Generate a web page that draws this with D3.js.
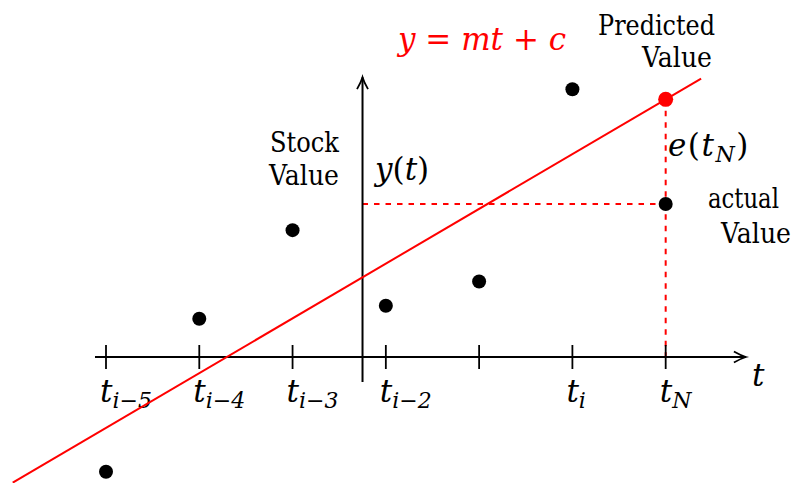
<!DOCTYPE html>
<html>
<head>
<meta charset="utf-8">
<script src="https://cdn.jsdelivr.net/npm/d3@7/dist/d3.min.js"></script>
<style>
  html, body { margin: 0; padding: 0; background: #fff; }
  svg { display: block; }
</style>
</head>
<body>
<svg id="chart" width="797" height="483"></svg>
<script>
// Time positions of the observations (t_{i-5} ... t_N)
const timePoints = [0, 1, 2, 3, 4, 5, 6];
// Tick labels: base symbol and subscript
const tickBase = ["t", "t", "t", "t", "", "t", "t"];
const tickSub = ["i\u22125", "i\u22124", "i\u22123", "i\u22122", "", "i", "N"];
// Observed stock values at each time point (last one is the actual value at t_N)
const stockValues = [-1.23, 0.41, 1.36, 0.55, 0.81, 2.87, 1.64];
// Fitted trend y = m t + c
const slope = 0.587;
const intercept = -0.76;
const predictTime = 6;
const predictedValue = slope * predictTime + intercept;
// Axis extents (data units)
const xAxisExtent = [-0.118, 6.86];
const yAxisAt = 2.75;
const yAxisExtent = [-0.268, 3.0];
const trendExtent = [-1.0, 6.38];

const svg = d3.select("#chart");
const unit = 93.28;
const x = d3.scaleLinear().domain([0, 6]).range([106, 106 + 6 * unit]);
const y = d3.scaleLinear().domain([0, 3]).range([357, 357 - 3 * unit]);

const red = "#ff0000";
const serif = "DejaVu Serif";
const mathSize = 31, subSize = 22, wordSize = 28;

function textEl(sel, size, italic) {
  return sel.append("text")
    .attr("font-family", serif)
    .attr("font-size", size)
    .attr("font-style", italic ? "italic" : "normal");
}
// plain word label, narrowed horizontally to a set width
function word(sel, s, xPos, yPos, width, anchor) {
  const t = textEl(sel, wordSize, false)
    .attr("text-anchor", anchor || "start")
    .text(s);
  const natural = t.node().getComputedTextLength();
  t.attr("transform", `translate(${xPos},${yPos}) scale(${width / natural},1)`);
  return t;
}
function up(t, s) { return t.append("tspan").attr("font-style", "normal").text(s); }
function it(t, s) { return t.append("tspan").attr("font-style", "italic").text(s); }

// Dashed guides: actual value across to the y axis, and the error at t_N
svg.append("line")
  .attr("x1", x(yAxisAt)).attr("x2", x(predictTime))
  .attr("y1", y(stockValues[6])).attr("y2", y(stockValues[6]))
  .attr("stroke", red).attr("stroke-width", 2).attr("stroke-dasharray", "5.5,6");
svg.append("line")
  .attr("x1", x(predictTime)).attr("x2", x(predictTime))
  .attr("y1", y(predictedValue)).attr("y2", y(0))
  .attr("stroke", red).attr("stroke-width", 2).attr("stroke-dasharray", "5.5,6");

// x axis with arrow
const xa = svg.append("g");
xa.append("line")
  .attr("x1", x(xAxisExtent[0])).attr("x2", x(xAxisExtent[1]))
  .attr("y1", y(0)).attr("y2", y(0))
  .attr("stroke", "#000").attr("stroke-width", 2);
const ax = x(xAxisExtent[1]), ay = y(0);
xa.append("path")
  .attr("d", `M${ax - 12},${ay - 5.5} Q${ax - 5},${ay - 1.5} ${ax},${ay} Q${ax - 5},${ay + 1.5} ${ax - 12},${ay + 5.5}`)
  .attr("fill", "none").attr("stroke", "#000").attr("stroke-width", 1.8);

// ticks
xa.selectAll(".tick").data(timePoints).join("line")
  .attr("x1", d => x(d)).attr("x2", d => x(d))
  .attr("y1", y(0) - 12).attr("y2", y(0) + 12)
  .attr("stroke", "#000").attr("stroke-width", 1.8);

// tick labels
timePoints.forEach((d, i) => {
  if (tickBase[i] === "") return;
  const t = textEl(xa, mathSize, true).attr("x", x(d) - 6).attr("y", 402);
  it(t, tickBase[i]);
  it(t, tickSub[i]).attr("font-size", subSize).attr("dy", 6);
});

// axis name t
textEl(svg, mathSize, true).attr("x", 752).attr("y", 386).text("t");

// y axis with arrow
const ya = svg.append("g");
ya.append("line")
  .attr("x1", x(yAxisAt)).attr("x2", x(yAxisAt))
  .attr("y1", y(yAxisExtent[0])).attr("y2", y(yAxisExtent[1]))
  .attr("stroke", "#000").attr("stroke-width", 2);
const bx = x(yAxisAt), by = y(yAxisExtent[1]);
ya.append("path")
  .attr("d", `M${bx - 5.5},${by + 12} Q${bx - 1.5},${by + 5} ${bx},${by} Q${bx + 1.5},${by + 5} ${bx + 5.5},${by + 12}`)
  .attr("fill", "none").attr("stroke", "#000").attr("stroke-width", 1.8);

// y(t) label
const yl = textEl(svg, mathSize, true).attr("x", 375).attr("y", 180);
it(yl, "y"); up(yl, "("); it(yl, "t"); up(yl, ")");

// Stock Value label
word(svg, "Stock", 339, 152, 69, "end");
word(svg, "Value", 339, 185, 70, "end");

// trend line
svg.append("line")
  .attr("x1", x(trendExtent[0])).attr("y1", y(slope * trendExtent[0] + intercept))
  .attr("x2", x(trendExtent[1])).attr("y2", y(slope * trendExtent[1] + intercept))
  .attr("stroke", red).attr("stroke-width", 2);

// equation
const eq = textEl(svg, mathSize, true).attr("fill", red).attr("x", 398).attr("y", 50);
it(eq, "y"); up(eq, " = "); it(eq, "mt"); up(eq, " + "); it(eq, "c");

// observed points
svg.selectAll(".pt").data(timePoints).join("circle")
  .attr("cx", d => x(d)).attr("cy", (d, i) => y(stockValues[i]))
  .attr("r", 7).attr("fill", "#000");

// predicted point
svg.append("circle")
  .attr("cx", x(predictTime)).attr("cy", y(predictedValue))
  .attr("r", 7.5).attr("fill", red);

// Predicted Value label
word(svg, "Predicted", 715, 35, 117, "end");
word(svg, "Value", 712, 67, 70, "end");

// e(t_N) label
const el = textEl(svg, mathSize, true).attr("x", 668).attr("y", 156).attr("letter-spacing", 1.5);
it(el, "e"); up(el, "("); it(el, "t");
it(el, "N").attr("font-size", subSize).attr("dy", 6);
up(el, ")").attr("dy", -6);

// actual Value label
word(svg, "actual", 708, 208, 71);
word(svg, "Value", 721, 243, 70);
</script>
</body>
</html>
